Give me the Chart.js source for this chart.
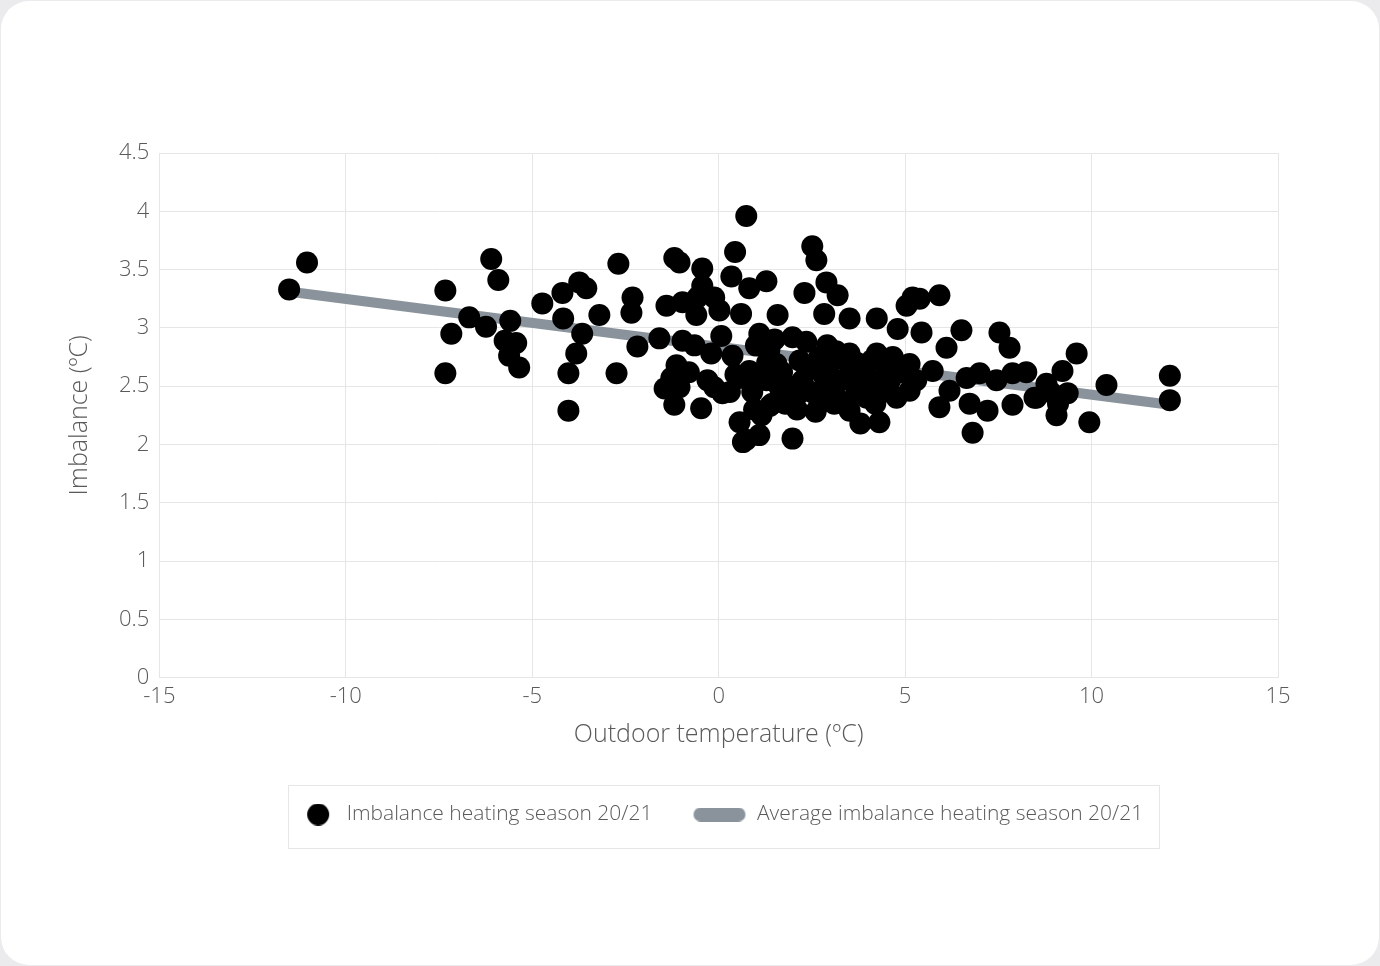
<!DOCTYPE html>
<html>
<head>
<meta charset="utf-8">
<title>Imbalance vs outdoor temperature</title>
<script src="https://cdn.jsdelivr.net/npm/chart.js@4.4.1/dist/chart.umd.min.js"></script>
<style>
  html, body { margin: 0; padding: 0; background: #ebebed; }
  .card {
    position: absolute; left: 1px; top: 1px; width: 1378px; height: 964px;
    background: #fff; border-radius: 28px; overflow: hidden;
  }
  .chart-container { position: absolute; left: -1px; top: -1px; width: 1380px; height: 966px; }
</style>
</head>
<body>
<div class="card">
  <div class="chart-container"><canvas id="imbalanceChart"></canvas></div>
</div>
<script>
// Outdoor temperature (ºC) and imbalance (ºC)
const tempC = [
  -11.52, -11.04, -7.33, -7.17, -7.33, -6.69, -6.24, -6.10, -5.91, -5.59,
  -5.74, -5.43, -5.62, -5.35, -4.73, -4.19, -3.74, -3.55, -4.17, -3.66,
  -3.82, -4.03, -4.03, -3.20, -2.69, -2.74, -2.31, -2.34, -2.18,
  0.74, 0.44, 0.34, 0.82, 1.28, -0.44, -1.19, -1.05, 2.51, 2.62,
  2.30, 2.89, -0.44, -0.57, -0.12, -1.40, -0.97, -0.60, 0.02, 0.60,
  1.58, -1.59, -0.97, -0.65, 0.07, -0.20, 1.09, 0.37, -1.13, -1.27,
  -1.45, -1.05, -1.19, -0.47, -0.12, 0.10, 0.56, 0.82, 1.36, 1.28,
  1.44, 0.56, 0.74, 1.09, 0.65, 1.98, 3.19, 2.83, 3.51, 4.24,
  1.98, 4.80, 5.04, 5.20, 2.91, 3.51, 4.24, 2.17, 2.70, 4.67,
  5.12, 1.55, 1.63, 2.25, 2.97, 3.59, 4.05, 4.50, 3.97, 4.77,
  5.12, 1.79, 2.70, 3.24, 3.51, 3.80, 4.31, 1.37,
  0.90, 1.10, 1.30, 1.50, 1.70, 1.90, 2.10, 2.40, 2.50, 2.80,
  3.00, 3.10, 3.30, 3.40, 3.70, 3.90, 4.10, 4.40, 4.60, 4.90,
  0.30, 0.45, -0.30, -0.80, 1.00, 2.35, 3.15, 3.70, 4.20, 0.95,
  2.10, 2.60, 1.15,
  5.92, 5.39, 5.44, 6.51, 6.11, 7.53, 7.80, 5.74, 5.30, 6.65,
  7.00, 7.45, 7.88, 8.25, 8.79, 6.19, 5.92, 6.73, 7.21, 7.88,
  8.47, 6.81, 9.06, 9.60, 9.22, 10.40, 9.94, 9.36, 8.52, 9.10,
  8.90, 12.10, 12.10
];
const imbalanceC = [
  3.33, 3.56, 3.32, 2.95, 2.61, 3.09, 3.01, 3.59, 3.41, 3.06,
  2.89, 2.87, 2.76, 2.66, 3.21, 3.30, 3.39, 3.34, 3.08, 2.95,
  2.78, 2.61, 2.29, 3.11, 3.55, 2.61, 3.26, 3.13, 2.84,
  3.96, 3.65, 3.44, 3.34, 3.40, 3.51, 3.60, 3.56, 3.70, 3.58,
  3.30, 3.39, 3.36, 3.26, 3.26, 3.19, 3.22, 3.11, 3.15, 3.12,
  3.11, 2.91, 2.89, 2.85, 2.93, 2.78, 2.95, 2.76, 2.68, 2.57,
  2.48, 2.49, 2.34, 2.31, 2.49, 2.44, 2.57, 2.63, 2.81, 2.55,
  2.35, 2.19, 2.04, 2.08, 2.02, 2.05, 3.28, 3.12, 3.08, 3.08,
  2.92, 2.99, 3.19, 3.26, 2.85, 2.78, 2.78, 2.72, 2.75, 2.75,
  2.69, 2.69, 2.49, 2.55, 2.49, 2.61, 2.55, 2.63, 2.40, 2.40,
  2.46, 2.35, 2.35, 2.38, 2.29, 2.18, 2.19, 2.33,
  2.45, 2.60, 2.70, 2.90, 2.62, 2.50, 2.42, 2.65, 2.45, 2.60,
  2.70, 2.35, 2.55, 2.72, 2.70, 2.65, 2.72, 2.45, 2.55, 2.62,
  2.45, 2.60, 2.55, 2.62, 2.85, 2.88, 2.80, 2.45, 2.35, 2.30,
  2.30, 2.28, 2.25,
  3.28, 3.25, 2.96, 2.98, 2.83, 2.96, 2.83, 2.63, 2.55, 2.57,
  2.61, 2.55, 2.61, 2.62, 2.52, 2.46, 2.32, 2.35, 2.29, 2.34,
  2.40, 2.10, 2.25, 2.78, 2.63, 2.51, 2.19, 2.44, 2.40, 2.35,
  2.45, 2.59, 2.38
];
// Average (trend) line end points
const trendTemp = [-11.5, 12.1];
const trendImbalance = [3.31, 2.34];

const xTicks = [-15, -10, -5, 0, 5, 10, 15];
const yTicks = [0, 0.5, 1, 1.5, 2, 2.5, 3, 3.5, 4, 4.5];

const seriesLabels = ['Imbalance heating season 20/21', 'Average imbalance heating season 20/21'];

const lineGrey = '#8a939b';
const gridGrey = '#e6e6e6';
const textGrey = '#5a5a5a';
const fontFamily = '"Open Sans", "Noto Sans", sans-serif';

// legend icons
const dotIcon = document.createElement('canvas');
dotIcon.width = 54; dotIcon.height = 22;
(function () {
  const c = dotIcon.getContext('2d');
  c.fillStyle = '#000';
  c.beginPath(); c.arc(36, 11, 11, 0, Math.PI * 2); c.fill();
})();
const pillIcon = document.createElement('canvas');
pillIcon.width = 54; pillIcon.height = 14;
(function () {
  const c = pillIcon.getContext('2d');
  c.fillStyle = lineGrey;
  c.beginPath(); c.roundRect(1, 0, 52, 14, 7); c.fill();
})();

// legend sits under the plot area, nudged a little left, with a thin frame
const legendFrame = {
  id: 'legendFrame',
  afterLayout(chart) {
    const lg = chart.legend;
    if (!lg) return;
    lg.left = chart.chartArea.left - 6;
    lg.right = chart.chartArea.right - 6;
  },
  afterDraw(chart) {
    const lg = chart.legend;
    if (!lg || !lg.legendHitBoxes || !lg.legendHitBoxes.length) return;
    const boxes = lg.legendHitBoxes;
    const left = Math.min(...boxes.map(b => b.left)) + 25 - 19;
    const right = Math.max(...boxes.map(b => b.left + b.width)) + 16;
    const midY = boxes[0].top + boxes[0].height / 2;
    const ctx = chart.ctx;
    ctx.save();
    ctx.strokeStyle = gridGrey;
    ctx.lineWidth = 1;
    ctx.strokeRect(Math.round(left) + 0.5, Math.round(midY - 30) + 0.5, Math.round(right - left), 63);
    ctx.restore();
  }
};

const ctx = document.getElementById('imbalanceChart').getContext('2d');
new Chart(ctx, {
  type: 'scatter',
  data: {
    datasets: [
      {
        label: seriesLabels[0],
        data: tempC.map((t, i) => ({ x: t, y: imbalanceC[i] })),
        backgroundColor: '#000',
        borderColor: '#000',
        pointRadius: 11,
        pointHoverRadius: 11,
        borderWidth: 0
      },
      {
        type: 'line',
        label: seriesLabels[1],
        data: trendTemp.map((t, i) => ({ x: t, y: trendImbalance[i] })),
        borderColor: lineGrey,
        backgroundColor: lineGrey,
        borderWidth: 10,
        pointRadius: 0,
        fill: false,
        showLine: true
      }
    ]
  },
  options: {
    responsive: true,
    maintainAspectRatio: false,
    animation: false,
    layout: { padding: { left: 65, right: 102, top: 153, bottom: 131 } },
    plugins: {
      tooltip: { enabled: false },
      legend: {
        position: 'bottom',
        labels: {
          usePointStyle: true,
          pointStyleWidth: 54,
          padding: 40,
          color: textGrey,
          font: { family: fontFamily, size: 21, weight: 300 },
          generateLabels(chart) {
            const items = Chart.defaults.plugins.legend.labels.generateLabels(chart);
            items[0].pointStyle = dotIcon;
            items[1].pointStyle = pillIcon;
            return items;
          }
        }
      }
    },
    scales: {
      x: {
        type: 'linear',
        min: xTicks[0],
        max: xTicks[xTicks.length - 1],
        afterBuildTicks(axis) { axis.ticks = xTicks.map(v => ({ value: v })); },
        grid: { color: gridGrey, drawTicks: false },
        border: { color: gridGrey },
        ticks: {
          color: textGrey, padding: 6,
          font: { family: fontFamily, size: 22, weight: 300 },
          callback: v => String(v)
        },
        title: {
          display: true,
          text: 'Outdoor temperature (ºC)',
          color: textGrey,
          padding: { top: 4, bottom: 14 },
          font: { family: fontFamily, size: 25, weight: 300 }
        }
      },
      y: {
        min: yTicks[0],
        max: yTicks[yTicks.length - 1],
        afterBuildTicks(axis) { axis.ticks = yTicks.map(v => ({ value: v })); },
        grid: { color: gridGrey, drawTicks: false },
        border: { color: gridGrey },
        ticks: {
          color: textGrey, padding: 10,
          font: { family: fontFamily, size: 22, weight: 300 },
          callback: v => String(v)
        },
        title: {
          display: true,
          text: 'Imbalance (ºC)',
          color: textGrey,
          padding: { top: 0, bottom: 14 },
          font: { family: fontFamily, size: 25, weight: 300 }
        }
      }
    }
  },
  plugins: [legendFrame]
});
</script>
</body>
</html>
